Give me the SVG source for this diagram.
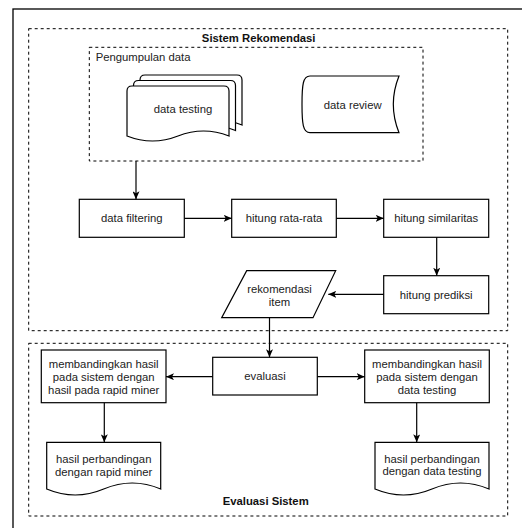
<svg xmlns="http://www.w3.org/2000/svg" width="522" height="528" viewBox="0 0 522 528">
<defs>
<marker id="arr" viewBox="0 0 8 7" refX="8" refY="3.5" markerWidth="8" markerHeight="7" markerUnits="userSpaceOnUse" orient="auto">
<path d="M0,0 L8,3.5 L0,7 L2,3.5 Z" fill="#000"/>
</marker>
<style>
.shape{fill:#fff;stroke:#000;stroke-width:1.2}
.dash{fill:none;stroke:#000;stroke-width:1;stroke-dasharray:3,3}
.conn{fill:none;stroke:#000;stroke-width:1.2;marker-end:url(#arr)}
text{font-family:"Liberation Sans",Arial,sans-serif;font-size:11.3px;fill:#222;text-anchor:middle;dominant-baseline:central}
.bold{font-weight:bold;fill:#111}
</style>
</defs>
<rect width="522" height="528" fill="#fff"/>
<rect id="frame" x="13" y="9" width="530" height="540" fill="none" stroke="#000" stroke-width="1.3"/>

<g id="sistem-rekomendasi">
<rect class="dash" x="28.7" y="28.7" width="479" height="302"/>
<text class="bold" x="258.7" y="38.3">Sistem Rekomendasi</text>
</g>
<g id="evaluasi-sistem">
<rect class="dash" x="28.7" y="343.3" width="479" height="172.7"/>
<text class="bold" x="265.7" y="501">Evaluasi Sistem</text>
</g>
<g id="pengumpulan-data">
<rect class="dash" x="89.3" y="47.3" width="333.7" height="113.7"/>
<text x="95.7" y="57.3" style="text-anchor:start">Pengumpulan data</text>
</g>

<g id="data-testing">
<path class="shape" d="M140,125 L140,80 Q140,75 145,75 L237,75 Q242,75 242,80 L242,125 Q216.5,115 191,125 Q165.5,135 140,125 Z"/>
<path class="shape" d="M133.5,130.5 L133.5,85.5 Q133.5,80.5 138.5,80.5 L230.5,80.5 Q235.5,80.5 235.5,85.5 L235.5,130.5 Q210,120.5 184.5,130.5 Q159,140.5 133.5,130.5 Z"/>
<path class="shape" d="M127,136 L127,91 Q127,86 132,86 L224,86 Q229,86 229,91 L229,136 Q203.5,126 178,136 Q152.5,146 127,136 Z"/>
<text x="183" y="109">data testing</text>
</g>
<g id="data-review">
<path class="shape" d="M310,76 L399,76 Q387.6,104.3 399,132.7 L310,132.7 C303,132.7 302,124 302,104.3 C302,84.6 303,76 310,76 Z"/>
<text x="352.7" y="105">data review</text>
</g>

<g id="data-filtering">
<rect class="shape" x="79.3" y="199.3" width="105" height="38"/>
<text x="131.8" y="218.3">data filtering</text>
</g>
<g id="hitung-rata-rata">
<rect class="shape" x="231.7" y="199.3" width="104.6" height="38"/>
<text x="284" y="218.3">hitung rata-rata</text>
</g>
<g id="hitung-similaritas">
<rect class="shape" x="383.7" y="199.3" width="105" height="38"/>
<text x="436.2" y="218.3">hitung similaritas</text>
</g>
<g id="hitung-prediksi">
<rect class="shape" x="383.7" y="275.7" width="105" height="38"/>
<text x="436.2" y="294.7">hitung prediksi</text>
</g>
<g id="rekomendasi-item">
<path class="shape" d="M246.7,270.7 L335.7,270.7 L313,317.7 L221.7,317.7 Z"/>
<text x="279.5" y="289.3">rekomendasi</text>
<text x="279.5" y="301.7">item</text>
</g>

<g id="evaluasi">
<rect class="shape" x="212.7" y="357.3" width="104.6" height="37.7"/>
<text x="265" y="376.2">evaluasi</text>
</g>
<g id="banding-rapid-miner">
<rect class="shape" x="41.3" y="350" width="124.7" height="52.7"/>
<text x="103.7" y="364.3">membandingkan hasil</text>
<text x="103.7" y="377">pada sistem dengan</text>
<text x="103.7" y="390">hasil pada rapid miner</text>
</g>
<g id="banding-data-testing">
<rect class="shape" x="364.7" y="350" width="124.6" height="52.7"/>
<text x="427" y="364.3">membandingkan hasil</text>
<text x="427" y="377">pada sistem dengan</text>
<text x="427" y="390">data testing</text>
</g>
<g id="hasil-rapid-miner">
<path class="shape" d="M46.7,442.3 L160.7,442.3 L160.7,489 Q132.2,477 103.7,489 Q75.2,501 46.7,489 Z"/>
<text x="103.7" y="459.3">hasil perbandingan</text>
<text x="103.7" y="471.7">dengan rapid miner</text>
</g>
<g id="hasil-data-testing">
<path class="shape" d="M375,442.3 L489,442.3 L489,489 Q460.5,477 432,489 Q403.5,501 375,489 Z"/>
<text x="432" y="458.6">hasil perbandingan</text>
<text x="432" y="471.2">dengan data testing</text>
</g>

<g id="connectors">
<line class="conn" x1="136" y1="161" x2="136" y2="199.3"/>
<line class="conn" x1="184.3" y1="218.3" x2="231.7" y2="218.3"/>
<line class="conn" x1="336.3" y1="218.3" x2="383.7" y2="218.3"/>
<line class="conn" x1="436.7" y1="237.3" x2="436.7" y2="275.7"/>
<line class="conn" x1="383.7" y1="294.3" x2="328.3" y2="294.3"/>
<line class="conn" x1="269.5" y1="317.7" x2="269.5" y2="357.3"/>
<line class="conn" x1="212.7" y1="376.7" x2="166" y2="376.7"/>
<line class="conn" x1="317.3" y1="376.7" x2="364.7" y2="376.7"/>
<line class="conn" x1="104.3" y1="402.7" x2="104.3" y2="442.3"/>
<line class="conn" x1="416.7" y1="402.7" x2="416.7" y2="442.3"/>
</g>
</svg>
